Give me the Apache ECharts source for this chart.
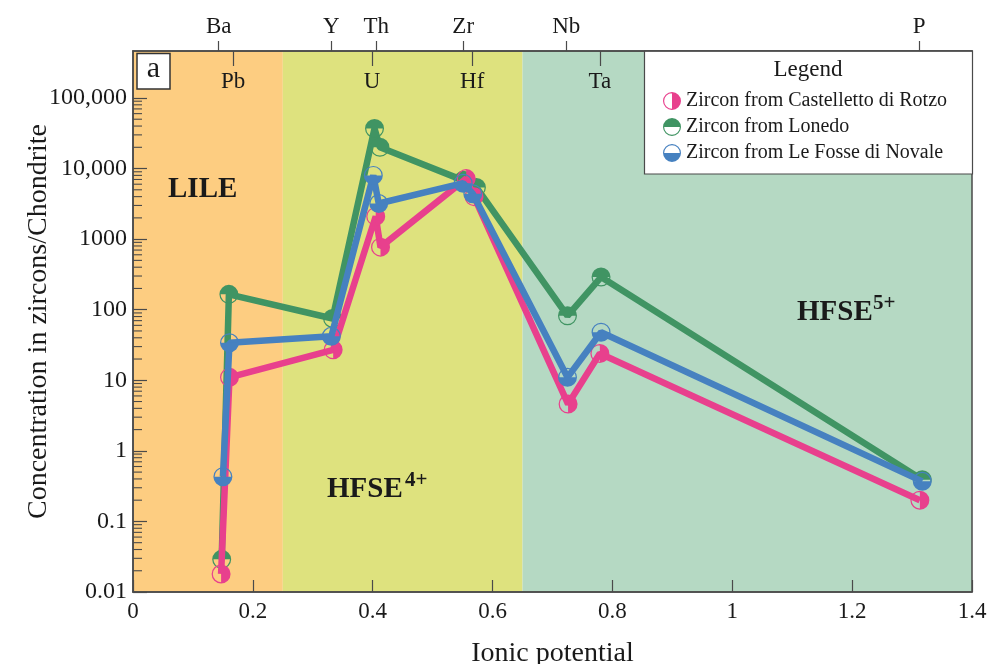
<!DOCTYPE html>
<html><head><meta charset="utf-8">
<script src="https://cdn.jsdelivr.net/npm/echarts@6/dist/echarts.min.js"></script>
<style>html,body{margin:0;padding:0;background:#fff}#c{width:994px;height:664px}</style>
</head><body><div id="c"></div>
<script>
// ---- data ----
const elements = ['Ba','Pb','Y','Th','U','Zr','Hf','Nb','Ta','P'];
const seriesNames = ['Zircon from Castelletto di Rotzo','Zircon from Lonedo','Zircon from Le Fosse di Novale'];
const rotzoX = [0.147,0.161,0.334,0.405,0.413,0.556,0.569,0.726,0.779,1.313];
const rotzoY = [0.018,11,27,2100,770,7200,4000,4.6,24,0.2];
const lonedoX = [0.148,0.160,0.333,0.403,0.412,0.551,0.573,0.725,0.781,1.317];
const lonedoY = [0.029,165,75,37000,20000,6800,5400,82,290,0.39];
const fosseX = [0.150,0.161,0.331,0.401,0.410,0.551,0.567,0.725,0.781,1.317];
const fosseY = [0.43,34,42,8000,3200,6200,4400,11,48,0.37];
const topOuterTicks = [0.143,0.331,0.406,0.551,0.723,1.312];
const topOuterLabels = ['Ba','Y','Th','Zr','Nb','P'];
const topInnerTicks = [0.167,0.399,0.566,0.779];
const topInnerLabels = ['Pb','U','Hf','Ta'];
const yTickLabels = ['0.01','0.1','1','10','100','1000','10,000','100,000'];
const regionBounds = [0, 0.25, 0.65, 1.4];
const regionColors = ['#fdcd81','#dee27e','#b5d9c3'];

// ---- style ----
const FONT = '"Liberation Serif", "Times New Roman", serif';
const TXT = '#1a1a1a';
const AX = '#4a4a4a';
const colors = ['#e8408d','#409463','#4681c0'];
const ring = 'M0 10A10 10 0 1 1 20 10A10 10 0 1 1 0 10ZM1.3 10A8.7 8.7 0 1 0 18.7 10A8.7 8.7 0 1 0 1.3 10Z';
const halves = ['M10 0A10 10 0 0 1 10 20Z','M0 10A10 10 0 0 1 20 10Z','M20 10A10 10 0 0 1 0 10Z'];
const symbols = halves.map(h => 'path://' + h + ring);
const GRID = {left:133, right:22, top:51, bottom:72};

function zip(xs, ys){ return xs.map((x,i)=>[x, ys[i]]); }
const seriesData = [zip(rotzoX,rotzoY), zip(lonedoX,lonedoY), zip(fosseX,fosseY)];
const zOrder = [3, 2, 4];

const chart = echarts.init(document.getElementById('c'), null, {renderer:'canvas'});

const series = [{
  type:'line', name:'bg', data:[], silent:true, z:-5,
  markArea:{silent:true, z:-5, data: regionColors.map((c,i)=>[
    {xAxis: regionBounds[i], itemStyle:{color:c, opacity:1}},
    {xAxis: regionBounds[i+1]}
  ])}
}];
seriesNames.forEach((n,i)=>{
  series.push({
    type:'line', name:n, data:seriesData[i], z:zOrder[i],
    symbol:symbols[i], symbolSize:19, showSymbol:true,
    lineStyle:{color:colors[i], width:6.5}, itemStyle:{color:colors[i]},
    emphasis:{disabled:true}, animation:false
  });
});

const labelMap = {};
topOuterTicks.forEach((v,i)=>labelMap[v.toFixed(3)] = topOuterLabels[i]);
topInnerTicks.forEach((v,i)=>labelMap[v.toFixed(3)] = topInnerLabels[i]);
const gridBase = {left:GRID.left, right:GRID.right, top:GRID.top, bottom:GRID.bottom, containLabel:false, outerBoundsMode:'none'};

const option = {
  animation:false,
  backgroundColor:'#ffffff',
  grid:[
    Object.assign({show:true, borderColor:AX, borderWidth:1.5, backgroundColor:'transparent'}, gridBase),
    Object.assign({show:false}, gridBase)
  ],
  xAxis:[{
    type:'value', gridIndex:0, min:0, max:1.4, interval:0.2, position:'bottom', z:6,
    name:'Ionic potential', nameLocation:'middle', nameGap:48, nameMoveOverlap:false,
    nameTextStyle:{fontFamily:FONT, fontSize:28, color:TXT},
    axisLine:{show:true, lineStyle:{color:AX, width:1.5}},
    axisTick:{show:true, inside:true, length:12, lineStyle:{color:AX, width:1.2}},
    axisLabel:{fontFamily:FONT, fontSize:23, color:TXT, margin:8},
    splitLine:{show:false}
  },{
    type:'value', gridIndex:0, min:0, max:1.4, position:'top', z:6,
    axisLine:{show:true, onZero:false, lineStyle:{color:AX, width:1.5}},
    axisTick:{show:true, inside:false, length:10, customValues:topOuterTicks, lineStyle:{color:AX, width:1.2}},
    axisLabel:{show:true, customValues:topOuterTicks, margin:13, fontFamily:FONT, fontSize:23, color:TXT,
      formatter:v=>labelMap[Number(v).toFixed(3)] || ''},
    splitLine:{show:false}
  },{
    type:'value', gridIndex:1, min:0, max:1.4, position:'top', z:6,
    axisLine:{show:false, onZero:false},
    axisTick:{show:true, inside:true, length:15, customValues:topInnerTicks, lineStyle:{color:AX, width:1.2}},
    axisLabel:{show:true, inside:true, customValues:topInnerTicks, margin:19, fontFamily:FONT, fontSize:23, color:TXT,
      formatter:v=>labelMap[Number(v).toFixed(3)] || ''},
    splitLine:{show:false}
  }],
  yAxis:[{
    type:'log', gridIndex:0, logBase:10, min:0.01, max:463000, splitNumber:8, z:6,
    name:'Concentration in zircons/Chondrite', nameLocation:'middle', nameGap:80, nameMoveOverlap:false,
    nameTextStyle:{fontFamily:FONT, fontSize:28, color:TXT},
    axisLine:{show:true, lineStyle:{color:AX, width:1.5}},
    axisTick:{show:true, inside:true, length:14, lineStyle:{color:AX, width:1.2}},
    axisLabel:{fontFamily:FONT, fontSize:24, color:TXT, margin:6, showMaxLabel:false,
      formatter:v=>{const e=Math.log10(v); const r=Math.round(e); return Math.abs(e-r)<1e-6 ? (yTickLabels[r+2]||'') : '';}},
    splitLine:{show:false}
  },{
    type:'value', gridIndex:1, min:0, max:1, show:false
  }],
  legend:{
    orient:'vertical', left:658, top:86, itemWidth:18, itemHeight:18, itemGap:6, z:10,
    textStyle:{fontFamily:FONT, fontSize:20, color:TXT, padding:[0,0,0,0]},
    data: seriesNames.map((n,i)=>({name:n, icon:symbols[i]})),
    selectedMode:false
  },
  series:series,
  graphic:[]
};
chart.setOption(option);

// minor log ticks & annotations
const g = [];
for (let k=-2; k<=4; k++){
  for (let m=2; m<=9; m++){
    const v = m*Math.pow(10,k);
    const py = chart.convertToPixel({yAxisIndex:0}, v);
    g.push({type:'line', shape:{x1:GRID.left, y1:py, x2:GRID.left+9, y2:py}, style:{stroke:AX, lineWidth:1.1}, z:5, silent:true});
  }
}
// legend box
g.push({type:'rect', shape:{x:644.5, y:51, width:328, height:123}, style:{fill:'#ffffff', stroke:AX, lineWidth:1.2}, z:6, silent:true});
g.push({type:'text', x:808, y:70, style:{text:'Legend', font:'23px '+FONT, fill:TXT, align:'center', verticalAlign:'middle'}, z:7, silent:true});
// panel label
g.push({type:'rect', shape:{x:137, y:53.5, width:33, height:35.5}, style:{fill:'#ffffff', stroke:'#333', lineWidth:1.5}, z:6, silent:true});
g.push({type:'text', x:153.5, y:69, style:{text:'a', font:'30px '+FONT, fill:TXT, align:'center', verticalAlign:'middle'}, z:7, silent:true});
// region labels
function lbl(text, x, y, size){
  g.push({type:'text', x:x, y:y, style:{text:text, font:'bold '+size+'px '+FONT, fill:TXT, align:'left', verticalAlign:'middle'}, z:7, silent:true});
}
lbl('LILE', 168, 190, 29);
lbl('HFSE', 327, 490, 29); lbl('4+', 405, 481, 21);
lbl('HFSE', 797, 313, 29); lbl('5+', 873, 304, 21);
chart.setOption({graphic:g});
</script></body></html>
